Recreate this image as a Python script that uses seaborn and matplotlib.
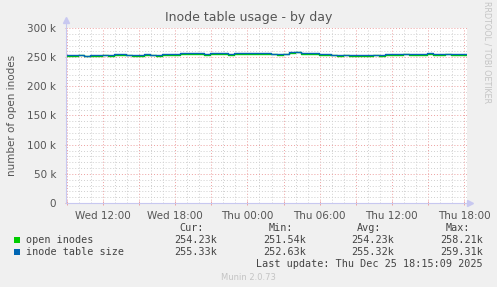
import numpy as np
import pandas as pd
import matplotlib
matplotlib.use("Agg")
import matplotlib.pyplot as plt
import matplotlib.dates as mdates
from matplotlib.ticker import MultipleLocator, FuncFormatter
from matplotlib.patches import Rectangle
import seaborn as sns

# ---------------- data ----------------
start_time = "2025-12-24 08:55"
end_time = "2025-12-25 18:15"
sample_step = "30min"

table_size_k = [254.0, 254.0, 254.0, 252.8, 253.8, 253.8, 254.0, 254.0, 255.4, 255.4,
                254.0, 253.2, 253.2, 255.2, 254.0, 254.0, 254.8, 254.8, 254.8, 257.0,
                257.0, 257.0, 257.0, 255.5, 257.0, 257.0, 257.0, 255.4, 256.3, 256.3,
                256.3, 256.3, 256.3, 256.3, 256.0, 255.5, 256.0, 258.5, 259.3, 256.8,
                257.0, 257.0, 255.5, 255.5, 254.0, 254.0, 254.0, 253.8, 253.8, 253.5,
                253.5, 254.5, 253.5, 255.5, 255.5, 255.5, 255.8, 255.5, 255.5, 255.5,
                256.5, 255.5, 255.5, 256.0, 255.5, 255.5, 255.3, 255.3]
open_inodes_k = [252.8, 252.6, 252.9, 251.6, 252.7, 252.5, 252.9, 252.8, 254.3, 254.2,
                 252.9, 252.0, 252.2, 254.0, 252.9, 252.8, 253.7, 253.6, 253.5, 255.9,
                 255.8, 256.0, 255.9, 254.3, 255.9, 255.8, 255.9, 254.3, 255.2, 255.1,
                 255.2, 255.0, 255.2, 255.1, 254.9, 254.4, 254.9, 257.4, 258.2, 255.7,
                 255.9, 255.8, 254.4, 254.3, 252.9, 252.7, 252.9, 252.6, 252.7, 252.3,
                 252.4, 253.4, 252.3, 254.4, 254.3, 254.4, 254.7, 254.3, 254.4, 254.3,
                 255.4, 254.4, 254.3, 254.9, 254.4, 254.3, 254.2, 254.2]

series_names = ["open inodes", "inode table size"]
series_colors = ["#00CC00", "#0066B3"]
stat_headers = ["Cur:", "Min:", "Avg:", "Max:"]
stats_open = ["254.23k", "251.54k", "254.23k", "258.21k"]
stats_table = ["255.33k", "252.63k", "255.32k", "259.31k"]
title = "Inode table usage - by day"
ylabel = "number of open inodes"
last_update = "Last update: Thu Dec 25 18:15:09 2025"
footer = "Munin 2.0.73"
side_text = "RRDTOOL / TOBI OETIKER"

times = pd.date_range(start_time, periods=len(table_size_k), freq=sample_step)
df = pd.DataFrame({
    "time": list(times) * 2,
    "value": [v * 1000 for v in open_inodes_k] + [v * 1000 for v in table_size_k],
    "series": [series_names[0]] * len(times) + [series_names[1]] * len(times),
})

# ---------------- figure ----------------
W, H = 497, 287
fig = plt.figure(figsize=(W / 100, H / 100), dpi=100, facecolor="#F0F0F0")
L, R, T, B = 66, 467, 28, 203
ax = fig.add_axes([L / W, 1 - B / H, (R - L) / W, (B - T) / H])
ax.set_facecolor("white")

sns.lineplot(data=df, x="time", y="value", hue="series", palette=series_colors,
             hue_order=series_names, drawstyle="steps-post", linewidth=1.0,
             legend=False, ax=ax)

ax.set_xlim(pd.Timestamp(start_time), pd.Timestamp(end_time))
ax.set_ylim(0, 300000)

# grid
ax.yaxis.set_major_locator(MultipleLocator(50000))
ax.yaxis.set_minor_locator(MultipleLocator(10000))
ax.yaxis.set_major_formatter(FuncFormatter(lambda v, p: "0" if v == 0 else f"{int(v/1000)} k"))
ax.xaxis.set_major_locator(mdates.HourLocator(byhour=range(0, 24, 3)))
ax.xaxis.set_minor_locator(mdates.HourLocator())

def xfmt(v, p):
    d = mdates.num2date(v)
    return d.strftime("%a %H:%M") if d.hour % 6 == 0 else ""
ax.xaxis.set_major_formatter(FuncFormatter(xfmt))

ax.grid(which="minor", color="#CFCFCF", linestyle=(0, (1, 2)), linewidth=0.7)
ax.grid(which="major", color="#EDA0A0", linestyle=(0, (1, 2)), linewidth=0.7)
ax.set_axisbelow(True)

ax.tick_params(which="major", axis="both", length=3, width=0.7, color="#EDA0A0",
               direction="inout", labelsize=7.5, labelcolor="#555555", pad=2)
ax.tick_params(which="minor", axis="both", length=0)
ax.tick_params(axis="y", length=2, pad=6)
ax.tick_params(axis="x", pad=4)

for s in ["top", "right"]:
    ax.spines[s].set_visible(False)
for s in ["left", "bottom"]:
    ax.spines[s].set_color("#C8C8F0")
    ax.spines[s].set_linewidth(0.8)
ax.spines["left"].set_bounds(0, 310000)
ax.set_xlabel("")
ax.set_ylabel("")

# axis arrows
ax.plot([0], [1.045], marker="^", color="#C8C8F0", markersize=4, transform=ax.transAxes, clip_on=False)
ax.plot([1.008], [0], marker=">", color="#C8C8F0", markersize=4, transform=ax.transAxes, clip_on=False)

def ft(x, y, s, **kw):
    fig.text(x / W, 1 - y / H, s, **kw)

ft(249, 18, title, ha="center", va="center", fontsize=9, color="#555555")
ft(12, 115, ylabel, ha="center", va="center", rotation=90, fontsize=7.5, color="#555555")
ft(487, 52, side_text, ha="center", va="center", rotation=270, fontsize=5.8, color="#C4C4C4")

mono = dict(family="DejaVu Sans Mono", fontsize=7.3, color="#444444", va="center")
head_x = [204, 293, 381, 470]
val_x = [217, 306, 394, 483]
for hx, h in zip(head_x, stat_headers):
    ft(hx, 228, h, ha="right", **mono)
for row_y, name, col, stats in [(240, series_names[0], series_colors[0], stats_open),
                                (252, series_names[1], series_colors[1], stats_table)]:
    fig.patches.append(Rectangle((14 / W, 1 - (row_y + 3) / H), 6 / W, 6 / H,
                                 transform=fig.transFigure, facecolor=col, edgecolor="none"))
    ft(26, row_y, name, ha="left", **mono)
    for vx, v in zip(val_x, stats):
        ft(vx, row_y, v, ha="right", **mono)
ft(483, 264, last_update, ha="right", **mono)
ft(248, 277, footer, ha="center", va="center", fontsize=6, color="#C4C4C4")

fig.savefig("out.png", dpi=100, facecolor=fig.get_facecolor())
